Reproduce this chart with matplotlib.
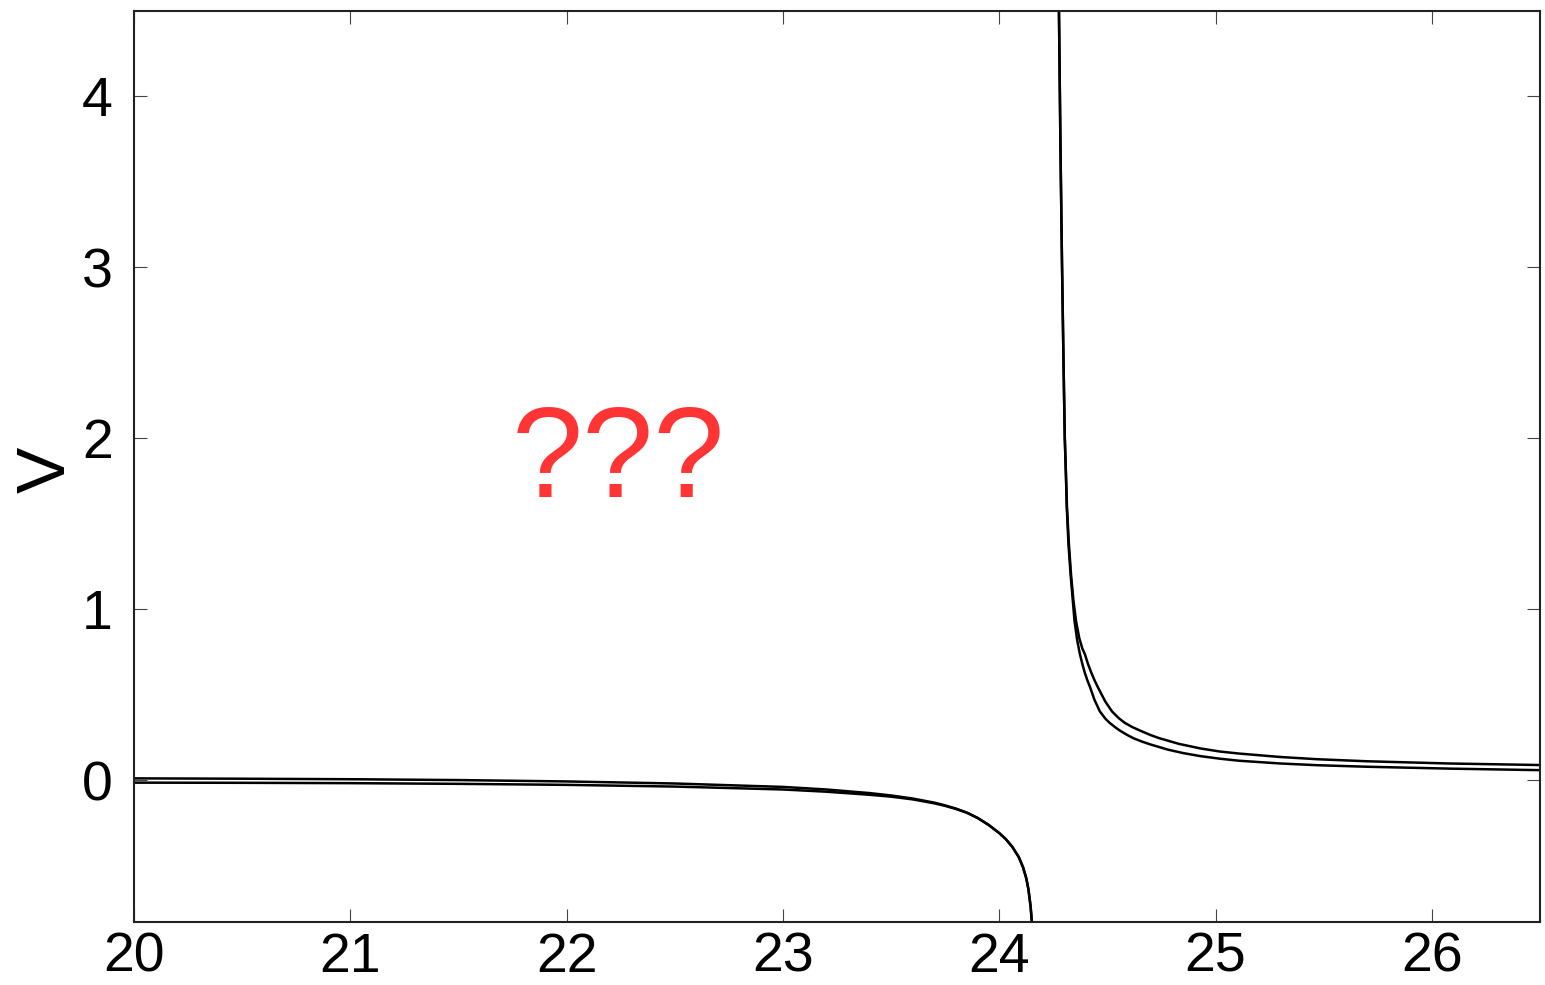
import matplotlib
matplotlib.use("Agg")
import matplotlib.pyplot as plt

# lower branch (left of the pole), two nearly coincident solutions
x_left = [20.0, 20.5, 21.0, 21.5, 22.0, 22.5, 23.0, 23.2, 23.4, 23.5, 23.6,
          23.7, 23.75, 23.8, 23.85, 23.9, 23.95, 24.0, 24.03, 24.06, 24.09,
          24.11, 24.125, 24.135, 24.145, 24.152, 24.157]
v_left_a = [-0.015, -0.016, -0.018, -0.022, -0.028, -0.038, -0.055, -0.068,
            -0.086, -0.097, -0.113, -0.136, -0.151, -0.169, -0.191, -0.222,
            -0.262, -0.31, -0.345, -0.39, -0.45, -0.51, -0.575, -0.64, -0.74,
            -0.85, -0.95]
v_left_b = [0.01, 0.008, 0.005, 0.0, -0.008, -0.02, -0.04, -0.055, -0.076,
            -0.09, -0.108, -0.132, -0.148, -0.167, -0.19, -0.221, -0.261,
            -0.31, -0.345, -0.39, -0.45, -0.51, -0.575, -0.64, -0.74, -0.85,
            -0.95]

# upper branch (right of the pole)
x_right_a = [24.270, 24.276, 24.283, 24.290, 24.297, 24.303, 24.308, 24.312,
             24.320, 24.330, 24.340, 24.348, 24.360, 24.373, 24.385, 24.395,
             24.407, 24.420, 24.440, 24.465, 24.49, 24.51, 24.535, 24.557,
             24.59, 24.62, 24.66, 24.70, 24.78, 24.85, 24.93, 25.02, 25.11,
             25.3, 25.47, 25.70, 26.08, 26.50]
v_right_a = [5.0, 4.5, 3.7, 3.03, 2.45, 2.0, 1.8, 1.6, 1.38, 1.2, 1.05, 0.93,
             0.82, 0.736, 0.675, 0.63, 0.585, 0.543, 0.47, 0.402, 0.36, 0.335,
             0.31, 0.29, 0.265, 0.245, 0.225, 0.208, 0.178, 0.158, 0.14,
             0.125, 0.113, 0.097, 0.087, 0.078, 0.067, 0.058]
x_right_b = [24.270, 24.276, 24.283, 24.290, 24.297, 24.303, 24.308, 24.313,
             24.322, 24.332, 24.343, 24.355, 24.370, 24.384, 24.396, 24.41,
             24.425, 24.44, 24.456, 24.49, 24.521, 24.55, 24.58, 24.615, 24.65,
             24.70, 24.74, 24.83, 24.93, 25.02, 25.11, 25.3, 25.47, 25.70,
             26.08, 26.50]
v_right_b = [5.0, 4.5, 3.7, 3.03, 2.45, 2.0, 1.8, 1.6, 1.38, 1.2, 1.05, 0.93,
             0.83, 0.77, 0.736, 0.68, 0.63, 0.585, 0.543, 0.46, 0.402, 0.365,
             0.335, 0.31, 0.29, 0.263, 0.245, 0.212, 0.185, 0.167, 0.155,
             0.135, 0.122, 0.11, 0.097, 0.088]

x_ticks = [20, 21, 22, 23, 24, 25, 26]
y_ticks = [0, 1, 2, 3, 4]

plt.rcParams['font.family'] = ['Liberation Sans', 'DejaVu Sans']

fig = plt.figure(figsize=(15.45, 9.85), dpi=100)
ax = fig.add_axes([0.0867, 0.064, 0.9101, 0.925])

for xs, vs in [(x_left, v_left_a), (x_left, v_left_b),
               (x_right_a, v_right_a), (x_right_b, v_right_b)]:
    ax.plot(xs, vs, color='black', lw=1.8)

ax.set_xlim(20, 26.5)
ax.set_ylim(-0.83, 4.5)
ax.set_xticks(x_ticks)
ax.set_yticks(y_ticks)
# inward ticks on all four sides, labels only bottom/left
ax.tick_params(direction='in', top=True, right=True, length=9.5, width=0.8,
               color='#444444', labelsize=40)
ax.tick_params(axis='x', pad=7)
ax.tick_params(axis='y', pad=15)
for sp in ax.spines.values():
    sp.set_linewidth(1.5)
    sp.set_color('#222222')

fig.text(47 / 1545, 1 - 470 / 985, 'V', rotation=90, ha='center',
         va='center', fontsize=50)
fig.text(618 / 1545, 1 - 497 / 985, '???', ha='center', va='baseline',
         fontsize=92, color='#ff3535')

fig.savefig('out.png', dpi=100)
